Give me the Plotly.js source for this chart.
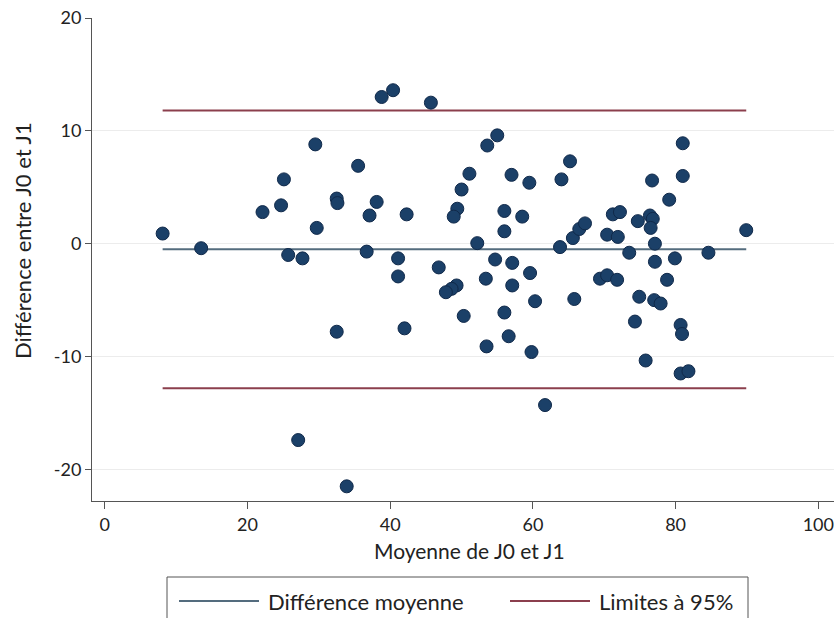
<!DOCTYPE html>
<html>
<head>
<meta charset="utf-8">
<script src="https://cdn.plot.ly/plotly-3.0.1.min.js"></script>
<style>
  html, body { margin: 0; padding: 0; background: #ffffff; }
  #chart { width: 834px; height: 618px; }
</style>
</head>
<body>
<div id="chart"></div>
<script>
// Moyenne de J0 et J1 (x) and Différence entre J0 et J1 (y)
const moyenne = [
  8.1, 13.5, 22.1, 24.7, 25.1, 25.7, 27.7, 29.5, 29.7, 32.5,
  32.6, 35.5, 38.1, 37.1, 42.3, 36.7, 41.1, 41.1, 46.8, 38.8,
  40.4, 45.7, 51.1, 50.0, 49.4, 48.9, 53.6, 55.0, 52.2, 54.7,
  57.1, 59.6, 53.4, 57.0, 59.5, 56.0, 58.5, 56.0, 64.0, 65.2,
  63.8, 65.6, 66.5, 67.3, 81.0, 76.7, 81.0, 79.1, 71.2, 72.2,
  74.7, 76.4, 76.8, 76.5, 70.4, 71.9, 73.5, 77.1, 77.1, 79.9,
  84.6, 89.9, 69.4, 70.4, 71.8, 78.8, 65.8, 74.9, 77.0, 77.9,
  74.3, 80.7, 80.9, 75.8, 80.7, 81.8, 57.1, 49.3, 48.6, 47.8,
  50.3, 56.0, 60.3, 32.5, 42.0, 56.6, 53.5, 59.8, 61.7, 27.1,
  33.9
];
const difference = [
  0.9, -0.4, 2.8, 3.4, 5.7, -1.0, -1.3, 8.8, 1.4, 4.0,
  3.6, 6.9, 3.7, 2.5, 2.6, -0.7, -1.3, -2.9, -2.1, 13.0,
  13.6, 12.5, 6.2, 4.8, 3.1, 2.4, 8.7, 9.6, 0.05, -1.4,
  -1.7, -2.6, -3.1, 6.1, 5.4, 2.9, 2.4, 1.1, 5.7, 7.3,
  -0.3, 0.5, 1.3, 1.8, 8.9, 5.6, 6.0, 3.9, 2.6, 2.8,
  2.0, 2.5, 2.2, 1.4, 0.8, 0.6, -0.8, 0.0, -1.6, -1.3,
  -0.8, 1.2, -3.1, -2.8, -3.2, -3.2, -4.9, -4.7, -5.0, -5.3,
  -6.9, -7.2, -8.0, -10.35, -11.5, -11.3, -3.7, -3.7, -4.0, -4.3,
  -6.4, -6.1, -5.1, -7.8, -7.5, -8.2, -9.1, -9.6, -14.3, -17.4,
  -21.5
];
const differenceMoyenne = -0.5;
const limiteHaute = 11.8;
const limiteBasse = -12.8;

const xTicks = [0, 20, 40, 60, 80, 100];
const xTickText = ["0", "20", "40", "60", "80", "100"];
const yTicks = [-20, -10, 0, 10, 20];
const yTickText = ["-20", "-10", "0", "10", "20"];

const xTitle = "Moyenne de J0 et J1";
const yTitle = "Différence entre J0 et J1";
const seriesNames = ["Différence moyenne", "Limites à 95%"];
const seriesColors = ["#546c7e", "#8b3f4d"];

const xMin = Math.min(...moyenne);
const xMax = Math.max(...moyenne);

const FONT = "Lato, 'Open Sans', sans-serif";
const TEXT = "#222222";

const traces = [
  {
    type: "scatter", mode: "lines", name: seriesNames[0],
    x: [xMin, xMax], y: [differenceMoyenne, differenceMoyenne],
    line: { color: seriesColors[0], width: 2 },
    hoverinfo: "skip", showlegend: false
  },
  {
    type: "scatter", mode: "lines", name: seriesNames[1],
    x: [xMin, xMax, null, xMin, xMax],
    y: [limiteHaute, limiteHaute, null, limiteBasse, limiteBasse],
    line: { color: seriesColors[1], width: 2 },
    hoverinfo: "skip", showlegend: false
  },
  {
    type: "scatter", mode: "markers", showlegend: false,
    x: moyenne, y: difference,
    marker: { size: 13, color: "#1b4068", line: { color: "#10294a", width: 1 } }
  }
];

// Paper-coordinate helpers for the Stata-style legend box and titles
const L = 92, W = 742, B = 501, H = 483;
const px = v => (v - L) / W;
const py = v => (B - v) / H;
const legendY = 601;
const shapes = [
  { type: "rect", xref: "paper", yref: "paper",
    x0: px(167), x1: px(748), y0: py(577), y1: py(640),
    line: { color: "#555555", width: 1 }, fillcolor: "rgba(0,0,0,0)" },
  { type: "line", xref: "paper", yref: "paper",
    x0: px(179), x1: px(259), y0: py(legendY), y1: py(legendY),
    line: { color: seriesColors[0], width: 2 } },
  { type: "line", xref: "paper", yref: "paper",
    x0: px(510), x1: px(590), y0: py(legendY), y1: py(legendY),
    line: { color: seriesColors[1], width: 2 } }
];
const annotations = [
  { xref: "paper", yref: "paper", x: px(266), y: py(legendY), xanchor: "left", yanchor: "middle",
    text: seriesNames[0], showarrow: false, font: { family: FONT, size: 22, color: TEXT } },
  { xref: "paper", yref: "paper", x: px(597), y: py(legendY), xanchor: "left", yanchor: "middle",
    text: seriesNames[1], showarrow: false, font: { family: FONT, size: 22, color: TEXT } },
  { xref: "paper", yref: "paper", x: px(469), y: py(550), xanchor: "center", yanchor: "middle",
    text: xTitle, showarrow: false, font: { family: FONT, size: 21, color: TEXT } },
  { xref: "paper", yref: "paper", x: px(22), y: py(241), xanchor: "center", yanchor: "middle",
    text: yTitle, textangle: -90, showarrow: false, font: { family: FONT, size: 22, color: TEXT } }
];

const layout = {
  width: 834, height: 618,
  margin: { l: 92, r: 0, t: 18, b: 117 },
  paper_bgcolor: "#ffffff", plot_bgcolor: "#ffffff",
  font: { family: FONT, size: 18, color: TEXT },
  showlegend: false,
  shapes: shapes,
  annotations: annotations,
  xaxis: {
    range: [-1.8, 102.2],
    tickmode: "array", tickvals: xTicks, ticktext: xTickText,
    ticks: "outside", ticklen: 7, tickwidth: 1, tickcolor: "#555555",
    showgrid: false, zeroline: false,
    showline: true, linecolor: "#555555", linewidth: 1,
    tickfont: { family: FONT, size: 18, color: TEXT },
    automargin: false, fixedrange: true
  },
  yaxis: {
    range: [-22.8, 20],
    tickmode: "array", tickvals: yTicks, ticktext: yTickText,
    ticks: "outside", ticklen: 6, tickwidth: 1, tickcolor: "#555555",
    showgrid: true, gridcolor: "#ececec", gridwidth: 1,
    zeroline: false,
    showline: true, linecolor: "#555555", linewidth: 1,
    tickfont: { family: FONT, size: 18, color: TEXT },
    automargin: false, fixedrange: true
  }
};

Plotly.newPlot("chart", traces, layout, { displayModeBar: false, staticPlot: true });
</script>
</body>
</html>
